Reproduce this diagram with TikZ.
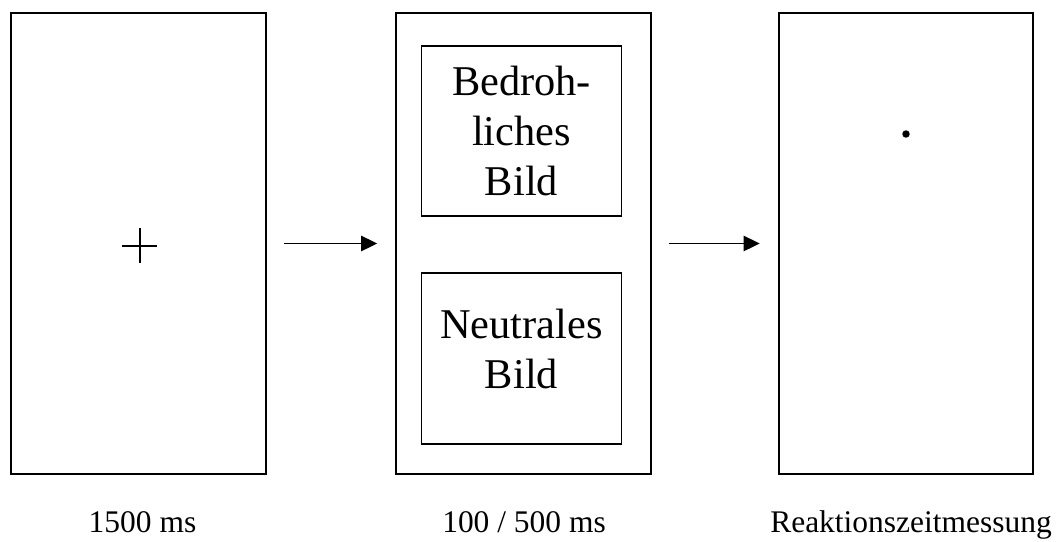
\documentclass[tikz,border=0pt]{standalone}
\usepackage{fontspec}
\setmainfont{Liberation Serif}
\usetikzlibrary{arrows.meta}
\usetikzlibrary{positioning}
\tikzset{x=0.75pt, y=-0.75pt,
frame/.style={ % Sets the properties for each screen
draw,
line width=1.5pt,
minimum width=191pt,
minimum height=345.75pt},
picbox/.style={ % Sets the properties for the two pictures
draw,
line width=1.4pt,
minimum width=150pt,
minimum height=128pt,
align=center,
font=\fontsize{31.8}{37.5}\selectfont},
boxtext/.style={ % Text of a picture box
align=center,
font=\fontsize{31.8}{37.5}\selectfont},
timing/.style={ % Label below a screen
anchor=base,
font=\fontsize{23.6}{28}\selectfont},
step arrow/.style={ % Arrows between the screens
draw,
line width=1.2pt,
-{Triangle[length=12pt,width=11.5pt]},
shorten <=13pt,
shorten >=13.5pt}}

\begin{document}
\begin{tikzpicture}
\useasboundingbox (0,0) rectangle (1060,542);
\node[frame] (fix) at (138.5,243.5) {};
\node[frame] (cue) at (523.5,243.5) {};
\node[frame] (probe) at (906,243.5) {};
\node[picbox] (threat) at (521.5,131) {Bedroh-\\liches\\Bild};
\node[picbox] (neutral) at (521.5,358.5) {};
\node[boxtext] (neutraltext) at (521.5,349) {Neutrales\\Bild};
% fixation cross and probe dot
\draw[line width=1.5pt] (122,245.5) -- (157,245.5);
\draw[line width=1.5pt] (139.5,228) -- (139.5,263);
\fill (906,134) circle[radius=2.8pt];
\draw[step arrow] (fix) -- (cue);
\draw[step arrow] (cue) -- (probe);
\node[timing] (fixtime) at (142.5,532) {1500 ms};
\node[timing] (cuetime) at (524,532) {100 / 500 ms};
\node[timing] (probetime) at (911,532) {Reaktionszeitmessung};
\end{tikzpicture}
\end{document}
